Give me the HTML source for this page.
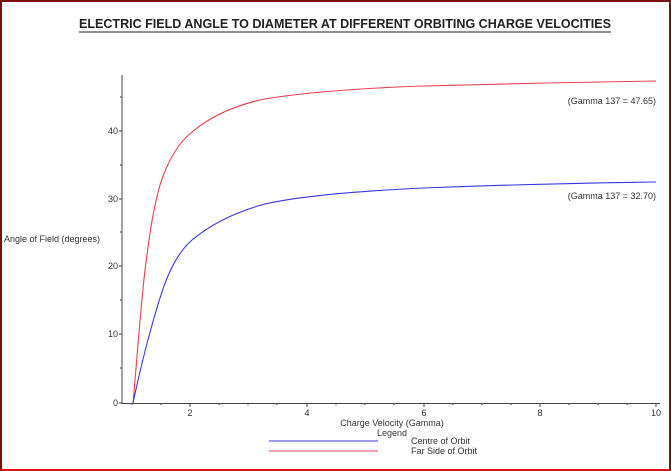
<!DOCTYPE html>
<html><head><style>
body{margin:0;background:#fff;}
.f{position:absolute;left:0;top:0;width:667px;height:467px;border:2px solid #7a1010;border-bottom-color:#e01010;}
svg text{font-family:"Liberation Sans",sans-serif;font-size:9px;fill:#333;}
</style></head><body>
<div class="f"></div>
<svg width="671" height="471" style="position:absolute;left:0;top:0">
<text x="345" y="28" text-anchor="middle" style="font-size:13px;font-weight:bold;fill:#222" textLength="532" lengthAdjust="spacingAndGlyphs">ELECTRIC FIELD ANGLE TO DIAMETER AT DIFFERENT ORBITING CHARGE VELOCITIES</text>
<line x1="79" y1="32" x2="611" y2="32" stroke="#222" stroke-width="1"/>
<line x1="122" y1="75" x2="122" y2="404" stroke="#444"/>
<line x1="122" y1="403.5" x2="660" y2="403.5" stroke="#444"/>
<g stroke="#444">
<line x1="119" y1="403" x2="122" y2="403"/><line x1="119" y1="334" x2="122" y2="334"/><line x1="119" y1="266" x2="122" y2="266"/><line x1="119" y1="199" x2="122" y2="199"/><line x1="119" y1="131" x2="122" y2="131"/>
<line x1="120" y1="368" x2="122" y2="368"/><line x1="120" y1="300" x2="122" y2="300"/><line x1="120" y1="232" x2="122" y2="232"/><line x1="120" y1="165" x2="122" y2="165"/><line x1="120" y1="97" x2="122" y2="97"/>
<line x1="190" y1="403" x2="190" y2="407"/><line x1="307" y1="403" x2="307" y2="407"/><line x1="424" y1="403" x2="424" y2="407"/><line x1="540" y1="403" x2="540" y2="407"/><line x1="656" y1="403" x2="656" y2="407"/>
<path d="M132,403v2M161,403v2M219,403v2M248,403v2M277,403v2M336,403v2M365,403v2M394,403v2M453,403v2M482,403v2M511,403v2M569,403v2M598,403v2M627,403v2"/>
</g>
<g text-anchor="end"><text x="118" y="406">0</text><text x="118" y="337">10</text><text x="118" y="269">20</text><text x="118" y="202">30</text><text x="118" y="134">40</text></g>
<g text-anchor="middle"><text x="190" y="416">2</text><text x="307" y="416">4</text><text x="424" y="416">6</text><text x="540" y="416">8</text><text x="656" y="416">10</text>
<text x="392" y="426">Charge Velocity (Gamma)</text><text x="392" y="436">Legend</text></g>
<text x="4" y="242">Angle of Field (degrees)</text>
<text x="656" y="104" text-anchor="end">(Gamma 137 = 47.65)</text>
<text x="656" y="199" text-anchor="end">(Gamma 137 = 32.70)</text>
<path d="M133,403 C137,360 141,300 146,262 C150,232 153,210 160,185 C168,160 178,143 192,132 C210,117 235,105 265,99 C300,93 360,88 424,86 C500,84 580,82 656,81" fill="none" stroke="#e84050" stroke-width="1.1"/>
<path d="M133,403 C140,370 150,330 160,298 C168,272 178,252 192,240 C210,225 235,212 265,204 C300,196 360,191 424,188 C500,185 580,183 656,182" fill="none" stroke="#3838e0" stroke-width="1.1"/>
<line x1="269" y1="441" x2="378" y2="441" stroke="#3838e0"/>
<line x1="269" y1="451" x2="378" y2="451" stroke="#e84050"/>
<text x="411" y="444">Centre of Orbit</text>
<text x="411" y="454">Far Side of Orbit</text>
</svg>
</body></html>
